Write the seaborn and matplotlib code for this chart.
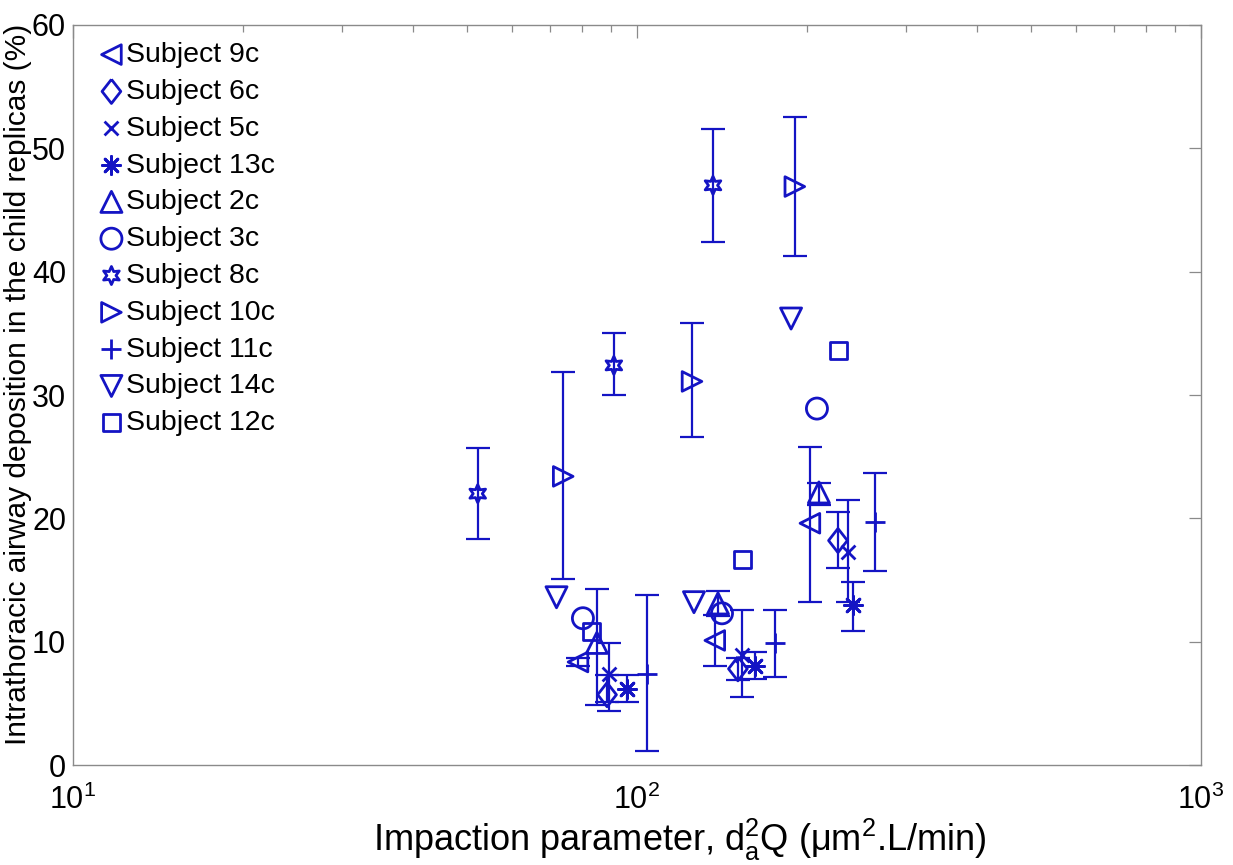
import numpy as np
import pandas as pd
import matplotlib
matplotlib.use("Agg")
import matplotlib.pyplot as plt
import seaborn as sns

# Impaction parameter (um^2.L/min) and deposition (%) per subject,
# with lower / upper error bar limits (None = no error bars)
subjects = ["Subject 9c", "Subject 6c", "Subject 5c", "Subject 13c", "Subject 2c",
            "Subject 3c", "Subject 8c", "Subject 10c", "Subject 11c", "Subject 14c",
            "Subject 12c"]

x_9c = [78.6, 137.4, 202.6]
y_9c = [8.35, 10.1, 19.6]
lo_9c = [8.0, 8.0, 13.2]
hi_9c = [8.7, 12.2, 25.8]

x_6c = [88.5, 151.0, 227.2]
y_6c = [5.7, 7.8, 18.2]
lo_6c = [5.1, 6.9, 16.0]
hi_6c = [7.3, 8.7, 20.5]

x_5c = [89.2, 153.5, 236.6]
y_5c = [7.4, 8.9, 17.3]
lo_5c = [4.4, 5.5, 13.2]
hi_5c = [9.9, 12.6, 21.5]

x_13c = [95.9, 161.9, 241.5]
y_13c = [6.2, 8.0, 13.0]
lo_13c = [5.1, 7.0, 10.9]
hi_13c = [7.3, 9.2, 14.8]

x_2c = [84.9, 139.2, 210.2]
y_2c = [9.9, 13.1, 22.1]
lo_2c = [4.9, 12.1, 21.1]
hi_2c = [14.3, 14.1, 22.9]

x_3c = [80.2, 141.5, 208.5]
y_3c = [11.9, 12.3, 28.9]

x_8c = [52.2, 91.0, 136.4]
y_8c = [22.0, 32.4, 47.0]
lo_8c = [18.3, 30.0, 42.4]
hi_8c = [25.7, 35.0, 51.6]

x_10c = [74.0, 125.2, 190.5]
y_10c = [23.4, 31.1, 46.9]
lo_10c = [15.1, 26.6, 41.3]
hi_10c = [31.9, 35.8, 52.5]

x_11c = [104.2, 175.6, 264.3]
y_11c = [7.4, 9.9, 19.7]
lo_11c = [1.1, 7.1, 15.7]
hi_11c = [13.8, 12.6, 23.7]

x_14c = [72.0, 126.2, 187.6]
y_14c = [13.6, 13.2, 36.2]

x_12c = [83.2, 154.0, 228.0]
y_12c = [10.8, 16.7, 33.6]

xs = [x_9c, x_6c, x_5c, x_13c, x_2c, x_3c, x_8c, x_10c, x_11c, x_14c, x_12c]
ys = [y_9c, y_6c, y_5c, y_13c, y_2c, y_3c, y_8c, y_10c, y_11c, y_14c, y_12c]
los = [lo_9c, lo_6c, lo_5c, lo_13c, lo_2c, None, lo_8c, lo_10c, lo_11c, None, None]
his = [hi_9c, hi_6c, hi_5c, hi_13c, hi_2c, None, hi_8c, hi_10c, hi_11c, None, None]

BLUE = "#1414C4"
diamond = [(0, 1), (-0.78, 0), (0, -1), (0.78, 0), (0, 1)]
# marker, size (pt^2), outlined (True) or line-art (False)
styles = [
    ("<", 200, True),
    (diamond, 300, True),
    ("x", 100, False),
    ((8, 2, 0), 170, False),
    ("^", 230, True),
    ("o", 230, True),
    ((6, 1, 0), 170, True),
    (">", 200, True),
    ("+", 210, False),
    ("v", 230, True),
    ("s", 150, True),
]

sns.set_theme(style="white")
plt.rcParams["font.family"] = ["Liberation Sans", "DejaVu Sans"]
plt.rcParams["mathtext.fontset"] = "custom"
plt.rcParams["mathtext.rm"] = "Liberation Sans"
plt.rcParams["mathtext.it"] = "Liberation Sans:italic"
plt.rcParams["mathtext.default"] = "regular"
plt.rcParams["text.color"] = "black"
plt.rcParams["axes.labelcolor"] = "black"

fig = plt.figure(figsize=(12.33, 8.65), dpi=100)
ax = fig.add_axes([0.0592, 0.1156, 0.9148, 0.8555])

for name, x, y, lo, hi, (mk, sz, outlined) in zip(subjects, xs, ys, los, his, styles):
    if lo is not None:
        x_arr = np.array(x)
        y_arr = np.array(y)
        yerr = np.vstack([y_arr - np.array(lo), np.array(hi) - y_arr])
        ax.errorbar(x_arr, y_arr, yerr=yerr, fmt="none", ecolor=BLUE,
                    elinewidth=1.6, capsize=8.5, capthick=1.6, zorder=2)
    df = pd.DataFrame({"x": x, "y": y})
    if outlined:
        sns.scatterplot(data=df, x="x", y="y", ax=ax, marker=mk, s=sz,
                        color=BLUE, facecolor="none", edgecolor=BLUE,
                        linewidth=2.0, label=name, zorder=3)
    else:
        sns.scatterplot(data=df, x="x", y="y", ax=ax, marker=mk, s=sz,
                        color=BLUE, linewidth=2.0, label=name, zorder=3)

ax.set_xscale("log")
ax.set_xlim(10, 1000)
ax.set_ylim(0, 60)
ax.set_yticks(np.arange(0, 61, 10))

for side in ["left", "right", "top", "bottom"]:
    ax.spines[side].set_visible(True)
    ax.spines[side].set_color("#8a8a8a")
    ax.spines[side].set_linewidth(1.0)

ax.tick_params(axis="both", which="both", direction="in", top=True, right=True,
               colors="#8a8a8a", labelcolor="black", labelsize=22)
ax.tick_params(axis="both", which="major", length=9, width=0.9)
ax.tick_params(axis="x", which="minor", length=5, width=0.9)
ax.tick_params(axis="x", which="major", pad=14)
ax.tick_params(axis="y", which="major", pad=5)

ax.set_xlabel(r"Impaction parameter, $d_a^2Q$ ($\mu m^2$.L/min)", fontsize=26)
ax.set_ylabel("Intrathoracic airway deposition in the child replicas (%)", fontsize=21.5)
ax.xaxis.set_label_coords(0.538, -0.07)
ax.yaxis.set_label_coords(-0.036, 0.515)

leg = ax.legend(loc="upper left", frameon=False, fontsize=20.5, handletextpad=-0.25,
                labelspacing=0.38, borderaxespad=0.5, handlelength=1.5,
                borderpad=0.1)

fig.savefig("out.png", dpi=100)
